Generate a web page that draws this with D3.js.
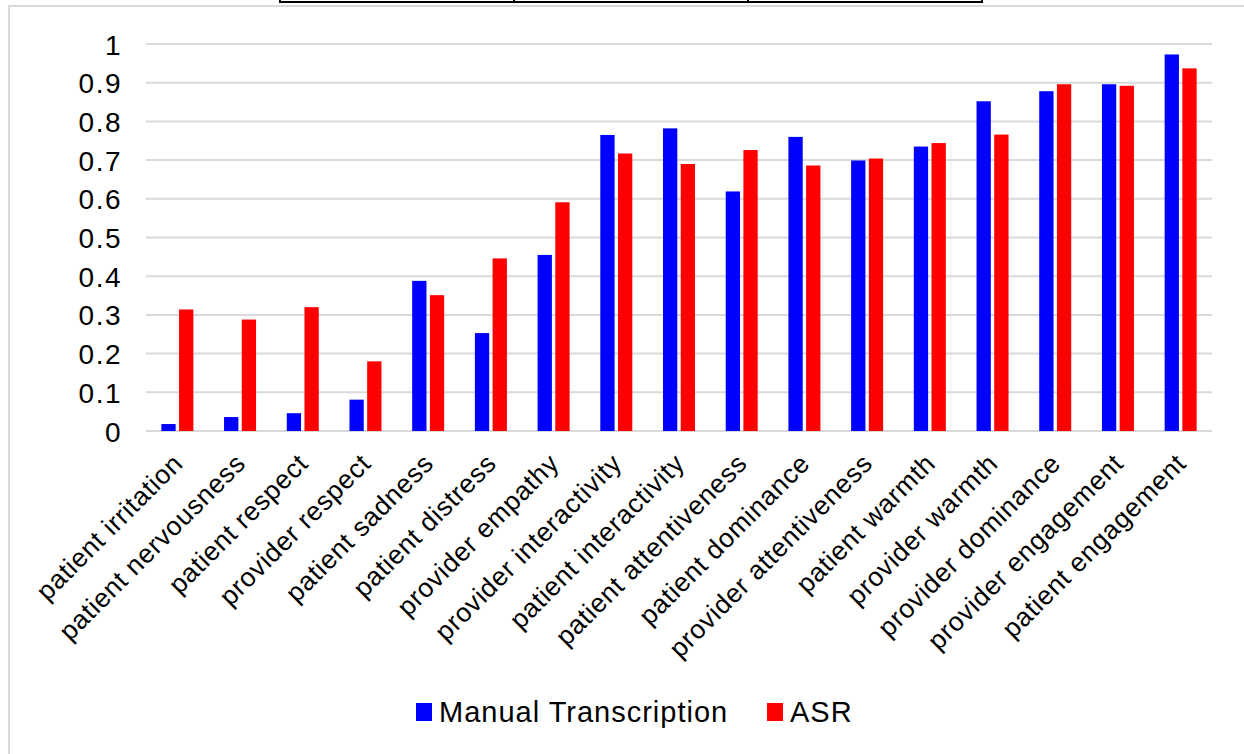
<!DOCTYPE html>
<html>
<head>
<meta charset="utf-8">
<script src="https://cdn.jsdelivr.net/npm/d3@7/dist/d3.min.js"></script>
<style>
  html, body { margin: 0; padding: 0; background: #fff; }
  svg { display: block; font-family: "Liberation Sans", Arial, sans-serif; }
</style>
</head>
<body>
<svg id="chart" width="1244" height="754"></svg>
<script>
const categories = [
  "patient irritation", "patient nervousness", "patient respect", "provider respect",
  "patient sadness", "patient distress", "provider empathy", "provider interactivity",
  "patient interactivity", "patient attentiveness", "patient dominance", "provider attentiveness",
  "patient warmth", "provider warmth", "provider dominance", "provider engagement",
  "patient engagement"
];
const seriesNames = ["Manual Transcription", "ASR"];
const manualValues = [0.018, 0.036, 0.046, 0.081, 0.388, 0.253, 0.455, 0.765, 0.782, 0.619, 0.760, 0.699, 0.735, 0.852, 0.878, 0.896, 0.973];
const asrValues    = [0.314, 0.288, 0.320, 0.180, 0.351, 0.446, 0.591, 0.717, 0.690, 0.726, 0.686, 0.704, 0.744, 0.766, 0.896, 0.892, 0.937];
const yTicks = [0, 0.1, 0.2, 0.3, 0.4, 0.5, 0.6, 0.7, 0.8, 0.9, 1];
const seriesColors = ["#0000FF", "#FF0000"];

const svg = d3.select("#chart");

// outer chart border (light gray)
svg.append("rect")
  .attr("x", 9).attr("y", 6).attr("width", 1400).attr("height", 900)
  .attr("fill", "none").attr("stroke", "#d9d9d9").attr("stroke-width", 2);

// table remnant at top
const topBox = svg.append("g");
topBox.append("line").attr("x1", 280).attr("x2", 982).attr("y1", 2).attr("y2", 2)
  .attr("stroke", "#000").attr("stroke-width", 2);
[280, 514, 748, 982].forEach(x => {
  topBox.append("line").attr("x1", x).attr("x2", x).attr("y1", 0).attr("y2", 3)
    .attr("stroke", "#000").attr("stroke-width", 2);
});

const plotLeft = 146, plotRight = 1212, plotTop = 44, plotBottom = 431;

const x0 = d3.scaleBand().domain(categories).range([plotLeft, plotRight]).padding(0);
const x1 = d3.scaleBand().domain(seriesNames).range([-16, 16]).paddingInner(0.192).paddingOuter(0);
const y = d3.scaleLinear().domain([0, 1]).range([plotBottom, plotTop]);

// gridlines
svg.append("g")
  .selectAll("line").data(yTicks).join("line")
  .attr("x1", plotLeft).attr("x2", plotRight)
  .attr("y1", d => y(d)).attr("y2", d => y(d))
  .attr("stroke", "#d9d9d9").attr("stroke-width", 2);

// y axis labels
const yAxis = d3.axisLeft(y).tickValues(yTicks).tickSize(0).tickPadding(0)
  .tickFormat(d => d3.format("~g")(d));
const yg = svg.append("g").attr("transform", `translate(122,0)`).call(yAxis);
yg.select(".domain").remove();
yg.selectAll("text")
  .attr("font-size", 28).attr("fill", "#000")
  .attr("font-family", "Liberation Sans, Arial, sans-serif")
  .attr("letter-spacing", 1.5)
  .attr("dy", "0.36em");

// bars
const data = categories.map((c, i) => ({ cat: c, vals: [manualValues[i], asrValues[i]] }));
const groups = svg.append("g").selectAll("g").data(data).join("g")
  .attr("transform", d => `translate(${x0(d.cat) + x0.bandwidth() / 2},0)`);
groups.selectAll("rect")
  .data(d => d.vals.map((v, j) => ({ s: seriesNames[j], v, j })))
  .join("rect")
  .attr("x", d => x1(d.s))
  .attr("width", x1.bandwidth())
  .attr("y", d => y(d.v))
  .attr("height", d => y(0) - y(d.v))
  .attr("fill", d => seriesColors[d.j]);

// x labels rotated
const xg = svg.append("g");
xg.selectAll("text").data(categories).join("text")
  .attr("transform", d => `translate(${x0(d) + x0.bandwidth() / 2 + 7},${plotBottom + 34}) rotate(-45)`)
  .attr("text-anchor", "end")
  .attr("font-size", 26.5)
  .attr("letter-spacing", 0.7)
  .attr("fill", "#000")
  .text(d => d);

// legend
const legend = svg.append("g");
const legendItems = [
  { name: seriesNames[0], color: seriesColors[0], sx: 416, tx: 439 },
  { name: seriesNames[1], color: seriesColors[1], sx: 767, tx: 790 }
];
legendItems.forEach(it => {
  legend.append("rect").attr("x", it.sx).attr("y", 703).attr("width", 16).attr("height", 18)
    .attr("fill", it.color);
  legend.append("text").attr("x", it.tx).attr("y", 722)
    .attr("font-size", 29).attr("letter-spacing", 1).attr("fill", "#000").text(it.name);
});
</script>
</body>
</html>
